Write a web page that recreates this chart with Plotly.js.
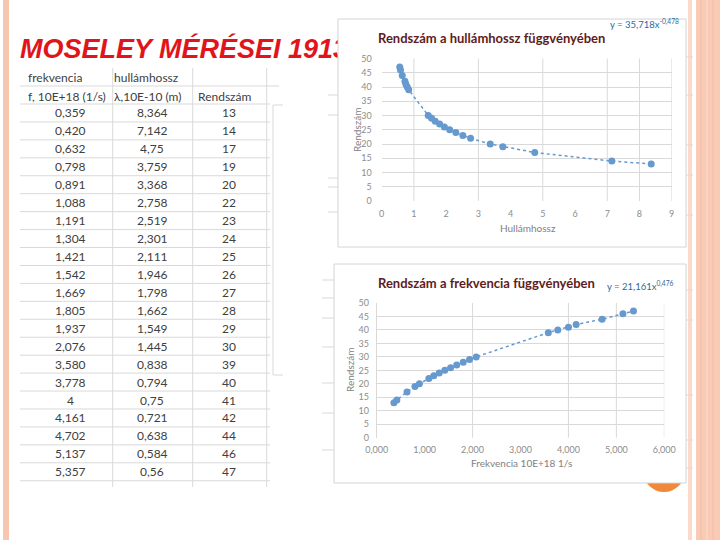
<!DOCTYPE html>
<html><head><meta charset="utf-8">
<script src="https://cdn.plot.ly/plotly-3.0.1.min.js"></script>
<style>html,body{margin:0;padding:0;background:#fff}#c{width:720px;height:540px}</style>
</head><body><div id="c"></div>
<script>
// ---- data ----
const frekvencia = [0.359, 0.420, 0.632, 0.798, 0.891, 1.088, 1.191, 1.304, 1.421, 1.542, 1.669, 1.805, 1.937, 2.076, 3.580, 3.778, 4, 4.161, 4.702, 5.137, 5.357];
const hullamhossz = [8.364, 7.142, 4.75, 3.759, 3.368, 2.758, 2.519, 2.301, 2.111, 1.946, 1.798, 1.662, 1.549, 1.445, 0.838, 0.794, 0.75, 0.721, 0.638, 0.584, 0.56];
const rendszam = [13, 14, 17, 19, 20, 22, 23, 24, 25, 26, 27, 28, 29, 30, 39, 40, 41, 42, 44, 46, 47];
const frekvenciaText = ["0,359","0,420","0,632","0,798","0,891","1,088","1,191","1,304","1,421","1,542","1,669","1,805","1,937","2,076","3,580","3,778","4","4,161","4,702","5,137","5,357"];
const hullamText = ["8,364","7,142","4,75","3,759","3,368","2,758","2,519","2,301","2,111","1,946","1,798","1,662","1,549","1,445","0,838","0,794","0,75","0,721","0,638","0,584","0,56"];
const headerRow1 = ["frekvencia", "hullámhossz", ""];
const headerRow2 = ["f, 10E+18 (1/s)", "λ,10E-10 (m)", "Rendszám"];
const slideTitle = "MOSELEY MÉRÉSEI 1913";
const chart1Title = "Rendszám a hullámhossz függvényében";
const chart2Title = "Rendszám a frekvencia függvényében";
const eq1 = "y = 35,718x<sup>-0,478</sup>";
const eq2 = "y = 21,161x<sup>0,476</sup>";

// ---- layout helpers (pixel -> paper) ----
const W = 720, H = 540;
const X = p => p / W;
const Y = p => 1 - p / H;
const GRID = '#D9D9D9';
const BLUE = '#6699CE';
const FONT = 'Lato, "Open Sans", sans-serif';
const TABFONT = '"Liberation Sans Narrow", Lato, sans-serif';

const shapes = [];
const ann = [];
function rectPx(x0, y0, x1, y1, fill, line, lw) {
  shapes.push({type:'rect', xref:'paper', yref:'paper', x0:X(x0), x1:X(x1), y0:Y(y1), y1:Y(y0),
    fillcolor:fill, line:{color:line||'rgba(0,0,0,0)', width:lw||0}, layer:'below'});
}
function linePx(x0, y0, x1, y1, color, w) {
  shapes.push({type:'line', xref:'paper', yref:'paper', x0:X(x0), x1:X(x1), y0:Y(y0), y1:Y(y1),
    line:{color:color, width:w||1}, layer:'below'});
}

// decorative stripes
rectPx(3, 0, 9, 540, '#F7C6B1');
rectPx(688, 0, 692, 540, '#FBDACB');
rectPx(696, 0, 720, 540, '#F9CBB7');
linePx(701, 0, 701, 540, '#F5BBA3', 1);
linePx(707, 0, 707, 540, '#FAD3C2', 2);
linePx(713, 0, 713, 540, '#F5BBA3', 1);

// table grid
const rowTop = 104, rowH = 17.94;
linePx(20, 86, 279, 86, GRID, 1);
for (let k = 0; k <= rendszam.length; k++) {
  const y = rowTop + k * rowH;
  linePx(20, y, 270, y, GRID, 1);
}
[112.7, 192.7, 266.7].forEach(x => linePx(x, 68, x, 487, GRID, 1));
linePx(273, 105, 273, 375, GRID, 1);
linePx(273, 105, 283, 105, GRID, 1);
linePx(273, 375, 283, 375, GRID, 1);
// spreadsheet grid stubs peeking out beside the chart boxes
[95, 115, 178, 187, 212].forEach(y => linePx(328, y, 338, y, GRID, 1));
[280, 298, 318, 347, 383, 413, 450].forEach(y => linePx(322, y, 334, y, GRID, 1));
[57, 95, 145, 175, 215, 290, 320, 395, 440, 468].forEach(y => linePx(686, y, 693, y, GRID, 1));

// slide title (as a shape label, so the chart box covers its end)
shapes.push({type:'rect', xref:'paper', yref:'paper', x0:X(17), x1:X(460), y0:Y(63), y1:Y(29),
  line:{width:0, color:'rgba(0,0,0,0)'}, fillcolor:'rgba(0,0,0,0)', layer:'below',
  label:{text:'<b><i>' + slideTitle + '</i></b>', textposition:'middle left', padding:0,
    font:{family:'"Liberation Sans", Arial, sans-serif', size:27, color:'#E2141B'}}});

// orange circle partly behind chart 2
shapes.push({type:'circle', xref:'paper', yref:'paper', x0:X(643), x1:X(685), y0:Y(492), y1:Y(450),
  fillcolor:'#F08A3A', line:{width:0, color:'rgba(0,0,0,0)'}, layer:'below'});

// chart boxes
rectPx(338, 19, 686, 247, '#FFFFFF', '#D4D4D4', 1);
rectPx(334, 264, 686, 483, '#FFFFFF', '#D4D4D4', 1);

// irregular vertical grid lines inside the plot areas
[1, 3, 5, 7, 8, 9].forEach(v => shapes.push({type:'line', xref:'x', yref:'y domain', x0:v, x1:v, y0:0, y1:1,
  line:{color:GRID, width:1}, layer:'below'}));
[2, 4, 5, 6].forEach(v => shapes.push({type:'line', xref:'x2', yref:'y2 domain', x0:v, x1:v, y0:0, y1:1,
  line:{color:GRID, width:1}, layer:'below'}));

// table text
function textPx(x, y, t, opt) {
  opt = opt || {};
  ann.push(Object.assign({xref:'paper', yref:'paper', x:X(x), y:Y(y), text:t, showarrow:false,
    xanchor:'center', yanchor:'middle',
    font:{family:TABFONT, size:12, color:'#404040'}}, opt));
}
const headX = [26, 112, 196];
headerRow1.forEach((t, i) => { if (t) textPx(headX[i], 77, t, {xanchor:'left'}); });
headerRow2.forEach((t, i) => textPx(headX[i], 96, t, {xanchor:'left'}));
for (let k = 0; k < rendszam.length; k++) {
  const y = rowTop + (k + 0.5) * rowH;
  textPx(70, y, frekvenciaText[k]);
  textPx(152, y, hullamText[k]);
  textPx(229.5, y, String(rendszam[k]));
}

// chart texts
const titleFont = {family:FONT, size:13, color:'#5E1C1C', weight:'bold'};
const eqFont = {family:FONT, size:9.5, color:'#2B6A9E'};
const axFont = {family:FONT, size:10, color:'#7F7F7F'};
textPx(491, 38, '<b>' + chart1Title + '</b>', {font:titleFont});
textPx(644, 23, eq1, {font:eqFont});
textPx(528, 228, 'Hullámhossz', {font:axFont});
textPx(357, 130, 'Rendszám', {font:axFont, textangle:-90});
textPx(486, 283, '<b>' + chart2Title + '</b>', {font:titleFont});
textPx(640, 285, eq2, {font:eqFont});
textPx(521, 463, 'Frekvencia 10E+18 1/s', {font:axFont});
textPx(350, 370, 'Rendszám', {font:axFont, textangle:-90});

const tickFont = {family:FONT, size:9, color:'#8C8C8C'};
const traces = [
  {type:'scatter', mode:'lines+markers', x:hullamhossz, y:rendszam, xaxis:'x', yaxis:'y',
    marker:{color:BLUE, size:7}, line:{color:BLUE, width:1.5, dash:'dot'}, hoverinfo:'skip'},
  {type:'scatter', mode:'lines+markers', x:frekvencia, y:rendszam, xaxis:'x2', yaxis:'y2',
    marker:{color:BLUE, size:7}, line:{color:BLUE, width:1.5, dash:'dot'}, hoverinfo:'skip'}
];
const layout = {
  width:W, height:H, margin:{l:0, r:0, t:0, b:0}, paper_bgcolor:'#FFFFFF', plot_bgcolor:'rgba(0,0,0,0)',
  showlegend:false, separators:', ', shapes:shapes, annotations:ann,
  xaxis:{domain:[X(381.7), X(671.7)], range:[0, 9], dtick:1, tick0:0, showgrid:false, zeroline:false,
    showline:false, ticks:'', tickfont:tickFont, anchor:'y', fixedrange:true, ticklabelstandoff:6},
  yaxis:{domain:[Y(201), Y(58.5)], range:[0, 50], dtick:5, tick0:0, showgrid:true, gridcolor:GRID, gridwidth:1,
    zeroline:false, showline:false, ticks:'', tickfont:tickFont, anchor:'x', fixedrange:true, ticklabelstandoff:9},
  xaxis2:{domain:[X(376.7), X(664.3)], range:[0, 6], dtick:1, tick0:0, tickformat:'.3f', showgrid:false,
    zeroline:false, showline:false, ticks:'', tickfont:tickFont, anchor:'y2', fixedrange:true, ticklabelstandoff:5},
  yaxis2:{domain:[Y(437.7), Y(303)], range:[0, 50], dtick:5, tick0:0, showgrid:true, gridcolor:GRID, gridwidth:1,
    zeroline:false, showline:true, linecolor:GRID, ticks:'', tickfont:tickFont, anchor:'x2', fixedrange:true, ticklabelstandoff:5}
};
Plotly.newPlot('c', traces, layout, {staticPlot:true, displayModeBar:false});
</script></body></html>
